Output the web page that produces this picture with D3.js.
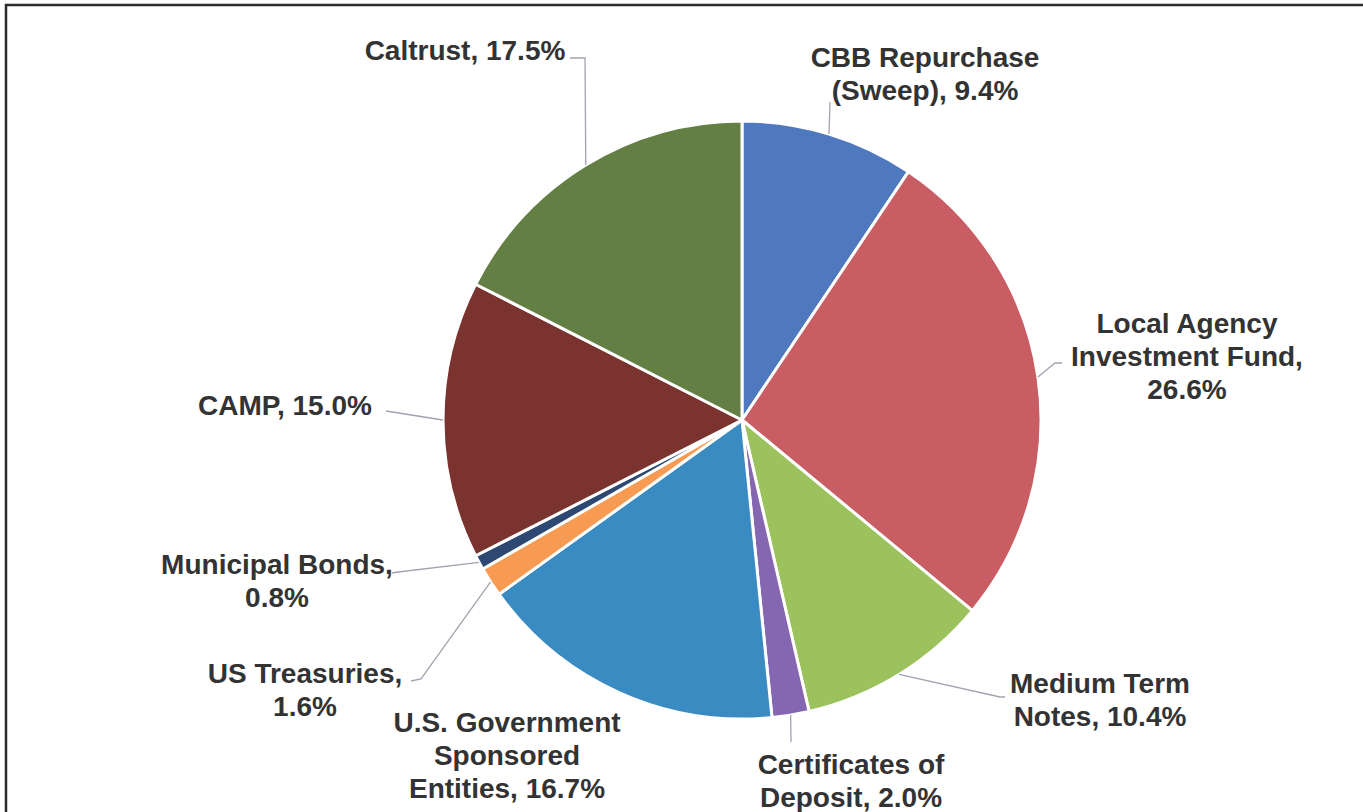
<!DOCTYPE html>
<html>
<head>
<meta charset="utf-8">
<script src="https://cdn.jsdelivr.net/npm/d3@7"></script>
<style>
  html, body { margin: 0; padding: 0; background: #fff; }
  svg { display: block; }
</style>
</head>
<body>
<div id="chart"></div>
<script>
'use strict';

// slices, clockwise from 12 o'clock
const categories = [
    "CBB Repurchase (Sweep)",
    "Local Agency Investment Fund",
    "Medium Term Notes",
    "Certificates of Deposit",
    "U.S. Government Sponsored Entities",
    "US Treasuries",
    "Municipal Bonds",
    "CAMP",
    "Caltrust"
];
const shares = [9.4, 26.6, 10.4, 2.0, 16.7, 1.6, 0.8, 15.0, 17.5];

// label text, already broken into lines like the original
const labelLines = [
    ["CBB Repurchase", "(Sweep), 9.4%"],
    ["Local Agency", "Investment Fund,", "26.6%"],
    ["Medium Term", "Notes, 10.4%"],
    ["Certificates of", "Deposit, 2.0%"],
    ["U.S. Government", "Sponsored", "Entities, 16.7%"],
    ["US Treasuries,", "1.6%"],
    ["Municipal Bonds,", "0.8%"],
    ["CAMP, 15.0%"],
    ["Caltrust, 17.5%"]
];

const colors = ["#4f79be", "#c95d64", "#9cc25e", "#8566b0", "#3a8bc1",
                "#f79a52", "#2d4872", "#7a332f", "#637f43"];

// label placement (centre of first line) and leader line bends
const labelLayout = [
    {x: 925, y: 57, leader: [[830, 102]]},
    {x: 1187, y: 323, leader: [[1055, 363], [1062, 363]]},
    {x: 1100, y: 683, leader: [[1000, 697], [1005, 697]]},
    {x: 851, y: 764, leader: [[791, 742]]},
    {x: 507, y: 722, leader: null},
    {x: 305, y: 673, leader: [[421, 679], [411, 681]]},
    {x: 277, y: 564, leader: [[398, 572], [392, 573]]},
    {x: 285, y: 405, leader: [[386, 411]]},
    {x: 465, y: 50, leader: [[585, 58], [570, 58]]}
];

const width = 1363, height = 812;
const cx = 742, cy = 420, radius = 299;
const lineGap = 33;

const svg = d3.select("#chart").append("svg")
    .attr("width", width)
    .attr("height", height);

// page frame
svg.append("rect")
    .attr("x", 6).attr("y", 5)
    .attr("width", width + 20).attr("height", height + 20)
    .style("fill", "none")
    .style("stroke", "#2b2b2b")
    .style("stroke-width", 2.5);

const pie = d3.pie().sort(null).value(d => d);
const arcs = pie(shares);
const arc = d3.arc().innerRadius(0).outerRadius(radius);

const g = svg.append("g").attr("transform", `translate(${cx},${cy})`);

g.selectAll("path.slice")
    .data(arcs)
    .enter().append("path")
    .attr("class", "slice")
    .attr("d", arc)
    .style("fill", (d, i) => colors[i])
    .style("stroke", "#fff")
    .style("stroke-width", 3)
    .style("stroke-linejoin", "round");

// leader lines from slice edge
const leaders = svg.append("g").attr("class", "leaders");
arcs.forEach(function(a, i){
    const lay = labelLayout[i];
    if(!lay.leader){
        return;
    }
    const mid = (a.startAngle + a.endAngle) / 2;
    const edge = [cx + radius * Math.sin(mid), cy - radius * Math.cos(mid)];
    const pts = [edge].concat(lay.leader);
    leaders.append("path")
        .attr("d", d3.line()(pts))
        .style("fill", "none")
        .style("stroke", "#a3a3b0")
        .style("stroke-width", 1.3);
});

// labels
const labels = svg.append("g").attr("class", "labels");
labelLines.forEach(function(lines, i){
    const lay = labelLayout[i];
    const t = labels.append("text")
        .attr("x", lay.x)
        .attr("y", lay.y)
        .attr("text-anchor", "middle")
        .style("font-family", "'Liberation Sans', Arial, sans-serif")
        .style("font-weight", "bold")
        .style("font-size", "28px")
        .style("fill", "#333");
    lines.forEach(function(line, k){
        t.append("tspan")
            .attr("x", lay.x)
            .attr("y", lay.y + k * lineGap)
            .attr("dy", "0.35em")
            .text(line);
    });
});
</script>
</body>
</html>
